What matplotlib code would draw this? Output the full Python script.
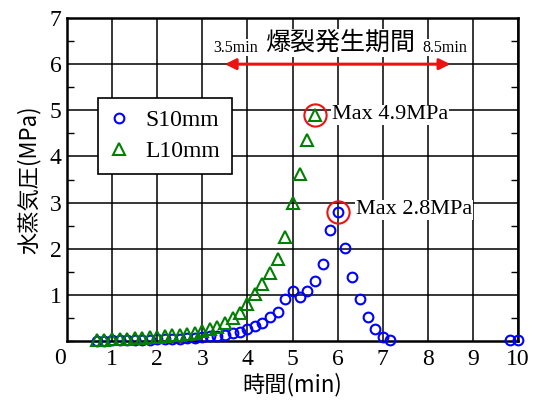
import matplotlib
matplotlib.use("Agg")
import matplotlib.pyplot as plt
from matplotlib.ticker import MultipleLocator

# Measurement times (min) and vapour pressure (MPa)
s_time = [0.67, 0.83, 1.00, 1.17, 1.33, 1.50, 1.67, 1.83, 2.00, 2.17,
          2.33, 2.50, 2.67, 2.83, 3.00, 3.17, 3.33, 3.50, 3.67, 3.83,
          4.00, 4.17, 4.33, 4.50, 4.67, 4.83, 5.00, 5.17, 5.33, 5.50,
          5.67, 5.83, 6.00, 6.17, 6.33, 6.50, 6.67, 6.83, 7.00, 7.17,
          9.83, 10.00]
s_press = [0.01, 0.01, 0.02, 0.02, 0.02, 0.03, 0.03, 0.03, 0.04, 0.04,
           0.05, 0.05, 0.06, 0.07, 0.08, 0.10, 0.11, 0.13, 0.17, 0.20,
           0.25, 0.33, 0.40, 0.51, 0.62, 0.91, 1.09, 0.96, 1.09, 1.29,
           1.67, 2.40, 2.80, 2.02, 1.38, 0.90, 0.51, 0.25, 0.09, 0.03,
           0.02, 0.03]

l_time = [0.67, 0.83, 1.00, 1.17, 1.33, 1.50, 1.67, 1.83, 2.00, 2.17,
          2.33, 2.50, 2.67, 2.83, 3.00, 3.17, 3.33, 3.50, 3.67, 3.83,
          4.00, 4.17, 4.33, 4.50, 4.67, 4.83, 5.00, 5.17, 5.33, 5.50]
l_press = [0.02, 0.03, 0.04, 0.05, 0.05, 0.06, 0.07, 0.08, 0.09, 0.10,
           0.12, 0.13, 0.15, 0.18, 0.22, 0.25, 0.30, 0.38, 0.49, 0.61,
           0.80, 1.02, 1.24, 1.47, 1.77, 2.26, 2.99, 3.62, 4.36, 4.90]

series_names = ["S10mm", "L10mm"]
s_max = (6.00, 2.80)
l_max = (5.50, 4.90)
spall_start, spall_end = 3.5, 8.5

x_ticks = [1, 2, 3, 4, 5, 6, 7, 8, 9, 10]
y_ticks = [1, 2, 3, 4, 5, 6, 7]

serif = "Liberation Serif"
jp = ["Noto Sans CJK JP", "DejaVu Sans"]

fig = plt.figure(figsize=(5.37, 4.03), dpi=100)
ax = fig.add_axes([0.1248, 0.1538, 0.8398, 0.8015])

ax.set_xlim(0, 10)
ax.set_ylim(0, 7)
ax.grid(True, color="black", linewidth=1.1)
ax.set_axisbelow(True)
for sp in ax.spines.values():
    sp.set_linewidth(1.8)

ax.set_xticks(x_ticks)
ax.set_yticks(y_ticks)
ax.yaxis.set_minor_locator(MultipleLocator(0.5))
ax.tick_params(axis="both", which="major", direction="in", length=0,
               labelsize=17, pad=6)
ax.tick_params(axis="y", which="minor", direction="in", length=5,
               width=1.0, left=True, right=True)
ax.tick_params(axis="y", which="major", pad=4)
for lab in ax.get_xticklabels() + ax.get_yticklabels():
    lab.set_fontfamily(serif)
ax.text(-0.15, -0.38, "0", fontsize=17, fontfamily=serif,
        ha="center", va="center", clip_on=False)

ax.plot(s_time, s_press, linestyle="none", marker="o", markersize=7,
        markerfacecolor="none", markeredgecolor="#0000ff",
        markeredgewidth=1.5, label=series_names[0], clip_on=False, zorder=4)
ax.plot(l_time, l_press, linestyle="none", marker="^", markersize=8,
        markerfacecolor="none", markeredgecolor="#008000",
        markeredgewidth=1.5, label=series_names[1], clip_on=False, zorder=4)

# Peak markers
for (mx, my) in (s_max, l_max):
    ax.plot(mx, my, linestyle="none", marker="o", markersize=16,
            markerfacecolor="none", markeredgecolor="#ee1111",
            markeredgewidth=1.5, zorder=5)
ax.text(l_max[0] + 0.37, l_max[1], "Max %.1fMPa" % l_max[1], fontsize=16,
        fontfamily=serif, ha="left", va="center",
        bbox=dict(facecolor="white", edgecolor="none", pad=0.5), zorder=6)
ax.text(s_max[0] + 0.41, s_max[1] + 0.04, "Max %.1fMPa" % s_max[1],
        fontsize=16, fontfamily=serif, ha="left", va="center",
        bbox=dict(facecolor="white", edgecolor="none", pad=0.5), zorder=6)

# Spalling period arrow
ax.annotate("", xy=(spall_start, 6.0), xytext=(spall_end, 6.0),
            arrowprops=dict(arrowstyle="<|-|>", color="#ee1111", lw=2.2,
                            mutation_scale=16, shrinkA=0, shrinkB=0),
            zorder=5)
ax.text(3.73, 6.36, "%.1fmin" % spall_start, fontsize=11.5, fontfamily=serif,
        ha="center", va="center",
        bbox=dict(facecolor="white", edgecolor="none", pad=0.3), zorder=6)
ax.text(8.38, 6.36, "%.1fmin" % spall_end, fontsize=11.5, fontfamily=serif,
        ha="center", va="center",
        bbox=dict(facecolor="white", edgecolor="none", pad=0.3), zorder=6)
ax.text(6.05, 6.46, "爆裂発生期間", fontsize=18, family=jp,
        ha="center", va="center",
        bbox=dict(facecolor="white", edgecolor="none", pad=0.5), zorder=6)

leg = ax.legend(loc="upper left", bbox_to_anchor=(0.069, 0.752),
                borderaxespad=0, frameon=True, fancybox=False,
                edgecolor="black", framealpha=1, handlelength=0.8,
                handletextpad=0.7, borderpad=0.5, labelspacing=0.4,
                prop={"family": serif, "size": 17})
leg.get_frame().set_linewidth(1.2)
leg.set_zorder(7)

ax.set_xlabel("時間(min)", fontsize=16, family=jp, labelpad=2)
ax.set_ylabel("水蒸気圧(MPa)", fontsize=16, family=jp, labelpad=6)

fig.savefig("out.png", dpi=100)
